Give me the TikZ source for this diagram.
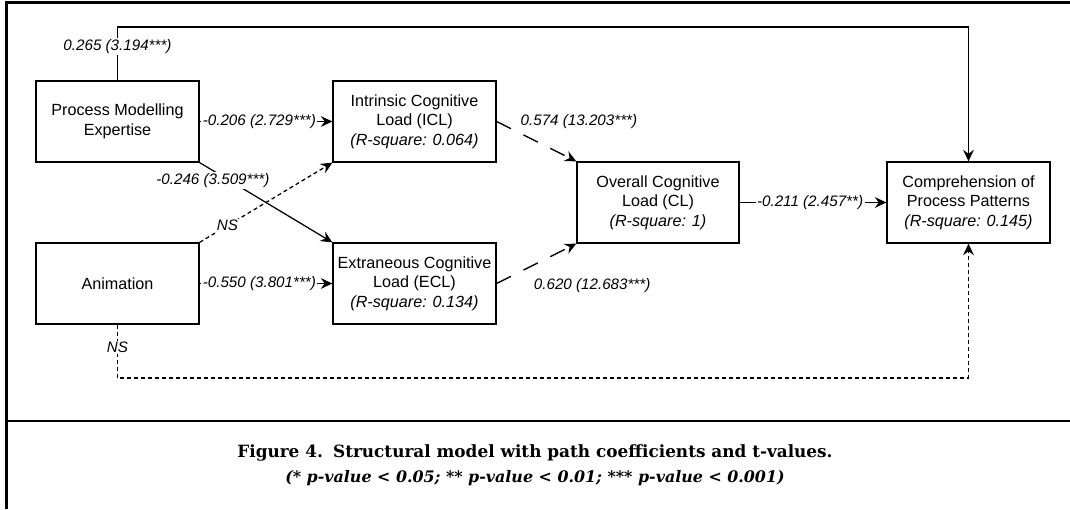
\documentclass[tikz,border=0pt]{standalone}
\usepackage{fontspec}
\setmainfont{Liberation Sans}
\newfontfamily\capfont{DejaVu Serif}
\usetikzlibrary{arrows.meta,calc,positioning}

\begin{document}
\begin{tikzpicture}[
        box/.style = {rectangle, draw, line width=0.9pt, minimum width=4.075cm, minimum height=2.025cm, align=center, font=\fontsize{11.5}{13.9}\selectfont},
        lbl/.style = {font=\fontsize{10.8}{12}\selectfont\itshape, fill=white, inner sep=1pt},
        arr/.style = {line width=0.9pt, -{Stealth[length=2.9mm,width=2.7mm,inset=1mm]}},
        nsline/.style = {arr, dash pattern=on 0.1cm off 0.075cm},
        longdash/.style = {arr, dash pattern=on 0.4cm off 0.35cm}
    ]
        %\draw [help lines] (0,0) grid (27,13);
        \useasboundingbox (0,0) rectangle (26.75,12.725);

        % frame and caption rule
        \draw [line width=2pt] (0.1625,0) -- (0.1625,12.66) -- (26.75,12.66);
        \draw [line width=2pt] (0.1625,2.2) -- (26.75,2.2);

        \node [box] (pme) at (2.9375,9.6875) {Process Modelling\\Expertise};
        \node [box] (ani) at (2.9375,5.6375) {Animation};
        \node [box] (icl) at (10.3625,9.6875) {Intrinsic Cognitive\\Load (ICL)\\\textit{(R-square: 0.064)}};
        \node [box] (ecl) at (10.3625,5.6375) {Extraneous Cognitive\\Load (ECL)\\\textit{(R-square: 0.134)}};
        \node [box, minimum width=4.05cm] (ocl) at (16.45,7.6625) {Overall Cognitive\\Load (CL)\\\textit{(R-square: 1)}};
        \node [box] (cpp) at (24.2125,7.6625) {Comprehension of\\Process Patterns\\\textit{(R-square: 0.145)}};

        \coordinate (top) at (0,12.05);
        \coordinate (bot) at (0,3.275);

        \draw [arr] (pme.north) -- node[lbl,pos=0.63] (l1) {0.265 (3.194***)} (pme.north |- top) -| (cpp.north);
        \draw [arr] (pme) -- node[lbl,pos=0.45] (l2) {-0.206 (2.729***)} (icl);
        \draw [arr] (pme.south east) -- node[lbl,pos=0.1,yshift=-0.25cm] (l3) {-0.246 (3.509***)} (ecl.north west);
        \draw [nsline] (ani.north east) -- node[lbl,pos=0.21] (l4) {NS} (icl.south west);
        \draw [arr] (ani) -- node[lbl,pos=0.45] (l5) {-0.550 (3.801***)} (ecl);

        \draw [longdash] (icl.east) -- node[lbl,pos=0,anchor=west,xshift=0.55cm,fill=none] (l6) {0.574 (13.203***)} (ocl.north west);
        \draw [longdash] (ecl.east) -- node[lbl,pos=0,anchor=west,xshift=0.88cm,yshift=-0.06cm,fill=none] (l7) {0.620 (12.683***)} (ocl.south west);

        \draw [arr] (ocl) -- node[lbl,pos=0.48] (l8) {-0.211 (2.457**)} (cpp);
        \draw [nsline] (ani.south) -- node[lbl,pos=0.43] (l9) {NS} (ani.south |- bot) -| (cpp.south);

        \node [font=\capfont\fontsize{12}{17.8}\selectfont, align=center] (cap) at (13.375,1.1)
            {\textbf{Figure 4.\hspace{0.6em}Structural model with path coefficients and t-values.}\\
             {\fontsize{11.3}{17.8}\selectfont\textbf{\textit{(* p-value < 0.05; ** p-value < 0.01; *** p-value < 0.001)}}}};

    \end{tikzpicture}
\end{document}
